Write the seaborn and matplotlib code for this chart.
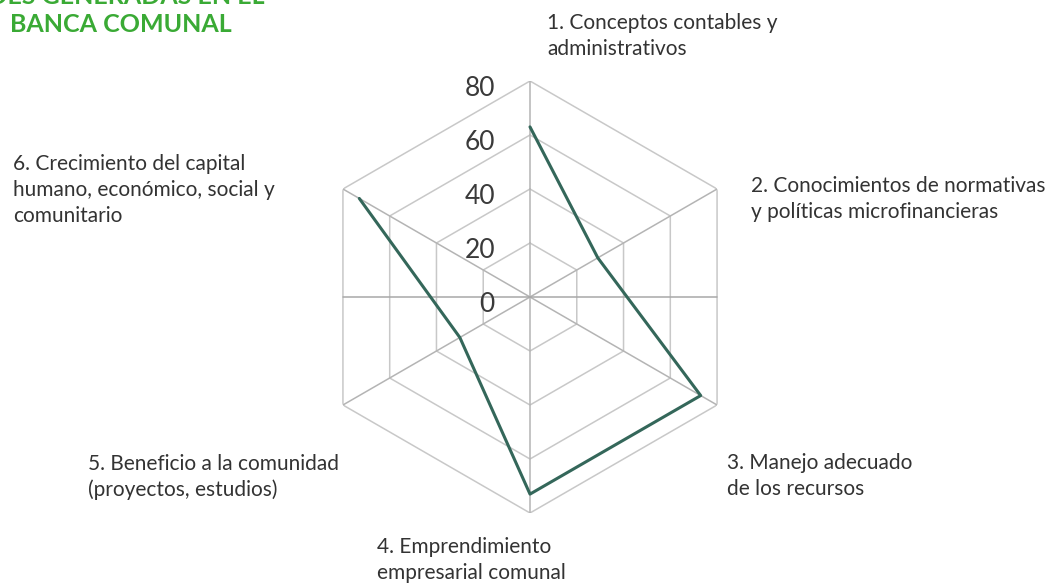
import numpy as np
import matplotlib
matplotlib.use("Agg")
import matplotlib.pyplot as plt
import seaborn as sns

# data
categories = [
    "1. Conceptos contables y\nadministrativos",
    "2. Conocimientos de normativas\ny políticas microfinancieras",
    "3. Manejo adecuado\nde los recursos",
    "4. Emprendimiento\nempresarial comunal",
    "5. Beneficio a la comunidad\n(proyectos, estudios)",
    "6. Crecimiento del capital\nhumano, económico, social y\ncomunitario",
]
values = [63, 29, 73, 73, 30, 73]
ticks = [0, 20, 40, 60, 80]

sns.set_style("white")
plt.rcParams['font.family'] = ['Lato', 'DejaVu Sans']

W, H = 1059, 584
fig = plt.figure(figsize=(W / 100, H / 100), dpi=100)

cx, cy, R = 530, 297, 216
ax = fig.add_axes([(cx - R) / W, (H - cy - R) / H, 2 * R / W, 2 * R / H], projection='polar')
ax.set_theta_offset(np.pi / 2)
ax.set_theta_direction(-1)
ax.set_ylim(0, 80)
ax.grid(False)
ax.spines['polar'].set_visible(False)
ax.set_xticks([])
ax.set_yticks([])
ax.patch.set_alpha(0)

n = len(categories)
angles = np.linspace(0, 2 * np.pi, n, endpoint=False)
closed = np.append(angles, angles[0])

# hexagon grid
for t in ticks[1:]:
    ax.plot(closed, [t] * (n + 1), color='#c8c8c8', lw=1.1, zorder=1)
for a in angles:
    ax.plot([a, a], [0, 80], color='#b4b4b4', lw=1.1, zorder=1)
# horizontal line through center
apo = 80 * np.cos(np.pi / 6)
ax.plot([np.pi / 2, np.pi / 2], [0, apo], color='#a8a8a8', lw=1.1, zorder=1)
ax.plot([3 * np.pi / 2, 3 * np.pi / 2], [0, apo], color='#a8a8a8', lw=1.1, zorder=1)

# data line
sns.lineplot(x=closed, y=values + values[:1], sort=False, ax=ax,
             color='#34675a', lw=2.2, zorder=3)
ax.set_xlabel("")
ax.set_ylabel("")

# radial tick labels
for t in ticks:
    ax.annotate(str(t), xy=(0, t), xytext=(-35, -7), textcoords='offset pixels',
                ha='right', va='center', fontsize=19,
                color='#3a3a3a', zorder=4)

# category labels (left x, first baseline y in pixels)
label_pos = [(547, 29), (751, 192), (727, 469), (377, 553), (88, 470), (13, 170)]
for text, (lx, ly) in zip(categories, label_pos):
    for i, line in enumerate(text.split("\n")):
        fig.text(lx / W, 1 - (ly + i * 26) / H, line, ha='left', va='baseline',
                 fontsize=15, color='#333333')

# title (cut at the top of the figure, as in the original)
fig.text(265 / W, 1 - 4 / H, "CAPACIDADES GENERADAS EN EL", ha='right', va='baseline',
         fontsize=18, fontweight='bold', color='#3aaa35')
fig.text(10 / W, 1 - 32 / H, "BANCA COMUNAL", ha='left', va='baseline',
         fontsize=18, fontweight='bold', color='#3aaa35')

fig.savefig("out.png", dpi=100)
